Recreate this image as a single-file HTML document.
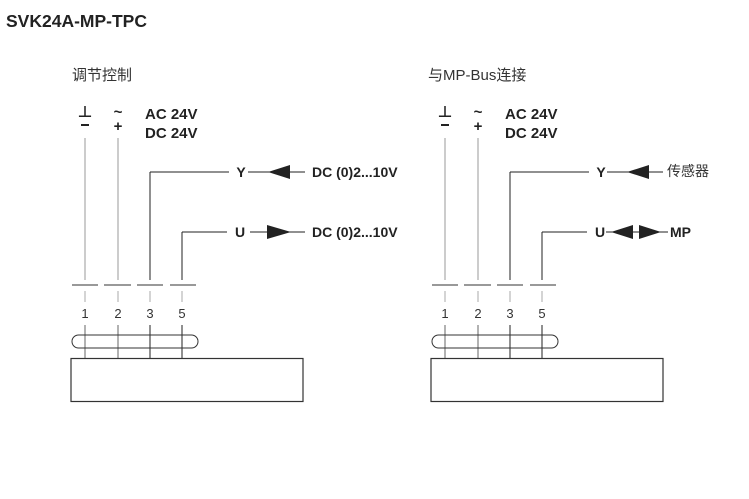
<!DOCTYPE html>
<html><head><meta charset="utf-8"><style>
html,body{margin:0;padding:0;background:#fff;}
svg{display:block;}
text{font-family:"Liberation Sans","Noto Sans CJK SC",sans-serif;}
.b{font-weight:bold;font-size:15px;fill:#222;}
.n{font-size:13px;fill:#333;}
.c{font-size:15px;fill:#333;}
.d{font-weight:bold;font-size:14px;fill:#222;}
</style></head><body>
<svg width="749" height="499" viewBox="0 0 749 499" xmlns="http://www.w3.org/2000/svg">
<defs>
<g id="base">
  <text x="85" y="117" class="b" text-anchor="middle">⊥</text>
  <line x1="81" y1="125" x2="89" y2="125" stroke="#222" stroke-width="2"/>
  <text x="118" y="117" class="b" text-anchor="middle">~</text>
  <text x="118" y="131" class="b" text-anchor="middle">+</text>
  <text x="145" y="119" class="b">AC 24V</text>
  <text x="145" y="138" class="b">DC 24V</text>
  <line x1="85" y1="138" x2="85" y2="280" stroke="#999" stroke-width="1"/>
  <line x1="118" y1="138" x2="118" y2="280" stroke="#999" stroke-width="1"/>
  <line x1="150" y1="172" x2="150" y2="280" stroke="#222" stroke-width="1"/>
  <line x1="182" y1="232" x2="182" y2="280" stroke="#222" stroke-width="1"/>
  <g stroke="#333" stroke-width="1">
    <line x1="72" y1="285" x2="98" y2="285"/>
    <line x1="104" y1="285" x2="131" y2="285"/>
    <line x1="137" y1="285" x2="163" y2="285"/>
    <line x1="170" y1="285" x2="196" y2="285"/>
  </g>
  <g stroke="#aaa" stroke-width="1">
    <line x1="85" y1="291" x2="85" y2="302"/>
    <line x1="118" y1="291" x2="118" y2="302"/>
    <line x1="150" y1="291" x2="150" y2="302"/>
    <line x1="182" y1="291" x2="182" y2="302"/>
  </g>
  <text x="85" y="318" class="n" text-anchor="middle">1</text>
  <text x="118" y="318" class="n" text-anchor="middle">2</text>
  <text x="150" y="318" class="n" text-anchor="middle">3</text>
  <text x="182" y="318" class="n" text-anchor="middle">5</text>
  <g stroke="#666" stroke-width="1">
    <line x1="85" y1="325" x2="85" y2="358"/>
    <line x1="118" y1="325" x2="118" y2="358"/>
  </g>
  <g stroke="#222" stroke-width="1">
    <line x1="150" y1="325" x2="150" y2="358"/>
    <line x1="182" y1="325" x2="182" y2="358"/>
  </g>
  <rect x="72" y="335" width="126" height="13" rx="6.5" fill="none" stroke="#333" stroke-width="1"/>
  <rect x="71" y="358.5" width="232" height="43" fill="none" stroke="#333" stroke-width="1.2"/>
  <line x1="150" y1="172" x2="229" y2="172" stroke="#222"/>
  <line x1="182" y1="232" x2="227" y2="232" stroke="#222"/>
  <text x="241" y="177" class="d" text-anchor="middle">Y</text>
  <text x="240" y="237" class="d" text-anchor="middle">U</text>
</g>
</defs>
<text x="6" y="27" class="b" style="font-size:17.5px">SVK24A-MP-TPC</text>
<text x="72" y="80" class="c">调节控制</text>
<text x="428" y="80" class="c">与MP-Bus连接</text>

<use href="#base"/>
<line x1="248" y1="172" x2="305" y2="172" stroke="#222"/>
<polygon points="268,172 290,165 290,179" fill="#222"/>
<text x="312" y="177" class="d">DC (0)2...10V</text>
<line x1="250" y1="232" x2="305" y2="232" stroke="#222"/>
<polygon points="291,232 267,225 267,239" fill="#222"/>
<text x="312" y="237" class="d">DC (0)2...10V</text>

<g transform="translate(360,0)"><use href="#base"/></g>
<line x1="607" y1="172" x2="663" y2="172" stroke="#222"/>
<polygon points="627,172 649,165 649,179" fill="#222"/>
<text x="667" y="176" class="c" style="font-size:14px">传感器</text>
<line x1="606" y1="232" x2="668" y2="232" stroke="#222"/>
<polygon points="611,232 633,225 633,239" fill="#222"/>
<polygon points="661,232 639,225 639,239" fill="#222"/>
<text x="670" y="237" class="d">MP</text>
</svg>
</body></html>
